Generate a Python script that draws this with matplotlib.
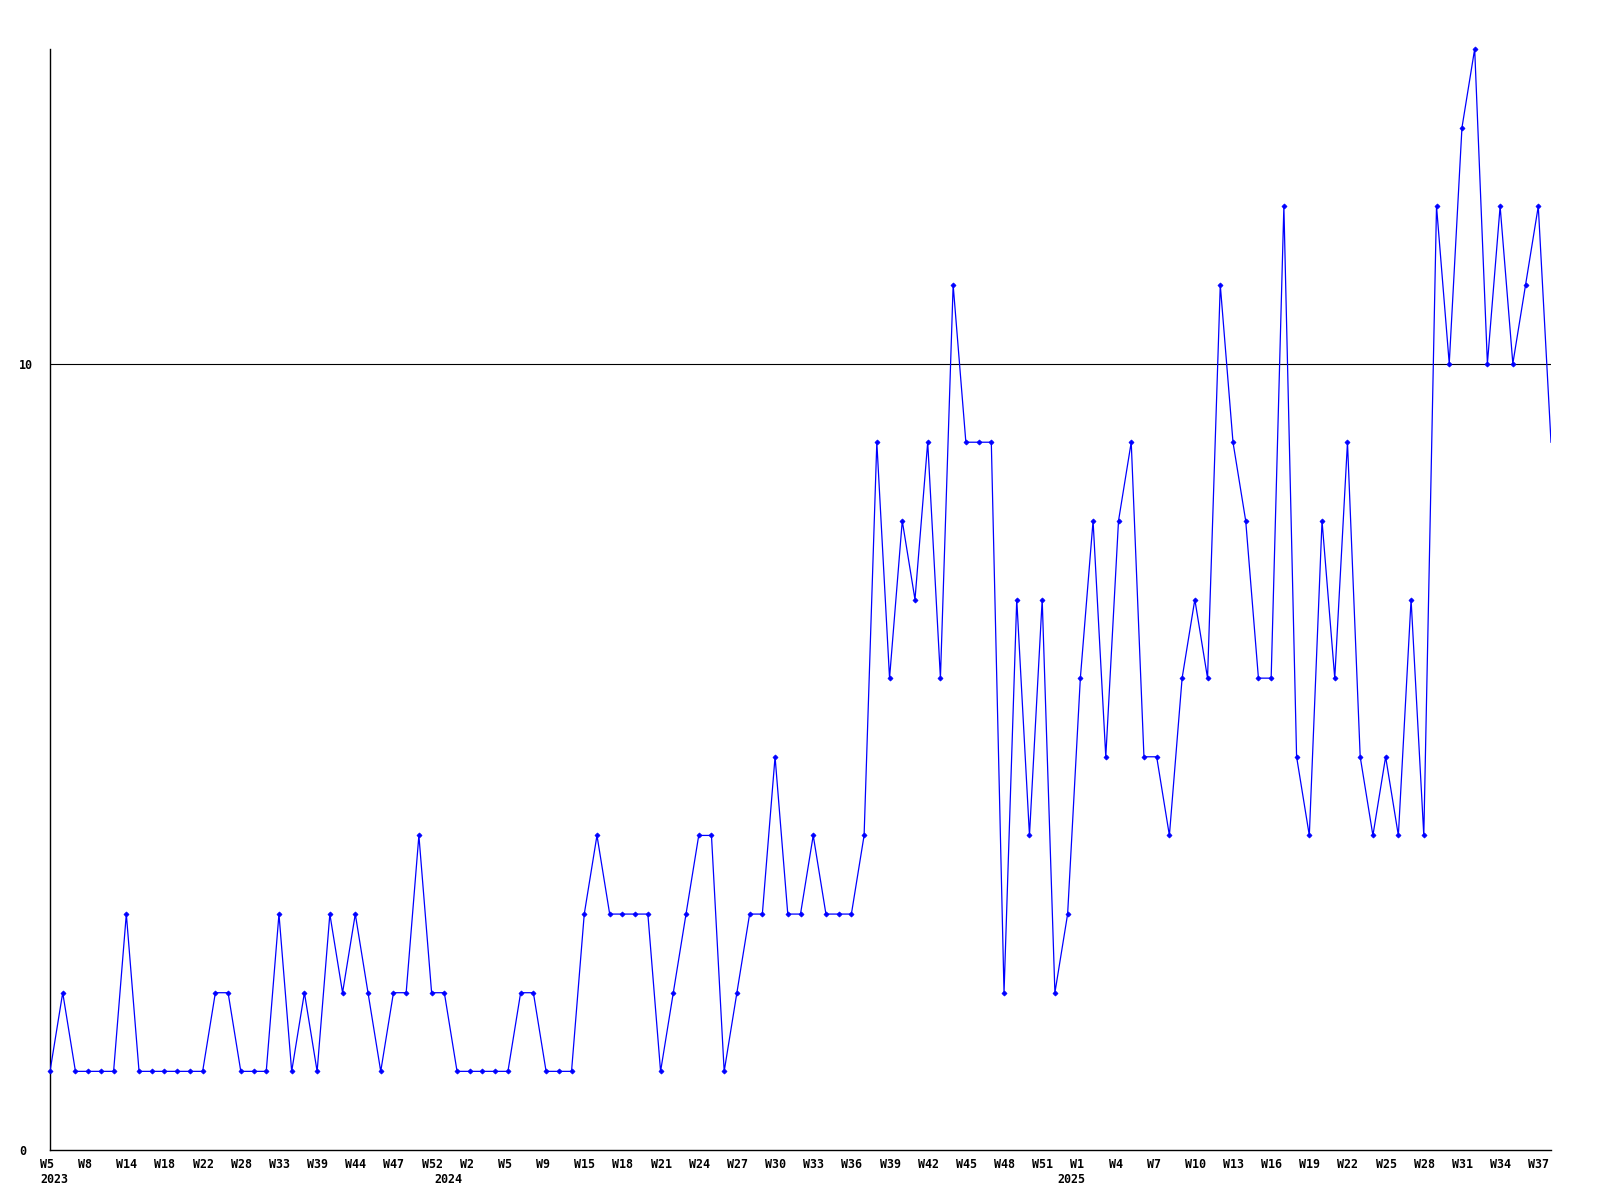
import matplotlib
matplotlib.use("Agg")
import matplotlib.pyplot as plt
from matplotlib.transforms import ScaledTranslation

# weekly counts, one value per data point
values = [1, 2, 1, 1, 1, 1, 3, 1, 1, 1, 1, 1, 1, 2, 2, 1, 1, 1, 3, 1,
          2, 1, 3, 2, 3, 2, 1, 2, 2, 4, 2, 2, 1, 1, 1, 1, 1, 2, 2, 1,
          1, 1, 3, 4, 3, 3, 3, 3, 1, 2, 3, 4, 4, 1, 2, 3, 3, 5, 3, 3,
          4, 3, 3, 3, 4, 9, 6, 8, 7, 9, 6, 11, 9, 9, 9, 2, 7, 4, 7, 2,
          3, 6, 8, 5, 8, 9, 5, 5, 4, 6, 7, 6, 11, 9, 8, 6, 6, 12, 5, 4,
          8, 6, 9, 5, 4, 5, 4, 7, 4, 12, 10, 13, 14, 10, 12, 10, 11, 12, 9]

# one label every third point
week_labels = ["W5", "W8", "W14", "W18", "W22", "W28", "W33", "W39", "W44", "W47",
               "W52", "W2", "W5", "W9", "W15", "W18", "W21", "W24", "W27", "W30",
               "W33", "W36", "W39", "W42", "W45", "W48", "W51", "W1", "W4", "W7",
               "W10", "W13", "W16", "W19", "W22", "W25", "W28", "W31", "W34", "W37"]
years = ["2023", "2024", "2025"]
year_idx = [0, 31, 80]

y_ticks = [0, 10]

fig = plt.figure(figsize=(16, 12), dpi=100)
ax = fig.add_axes([50 / 1600, 50 / 1200, 1501 / 1600, 1101 / 1200])

x = list(range(len(values)))
ax.plot(x, values, color="#0000ff", lw=0.9, zorder=3)
# the last point has no marker in the original
ax.plot(x[:-1], values[:-1], ls="none", color="#0000ff", marker="D", ms=2.6,
        markeredgewidth=0.5, clip_on=False, zorder=4)
ax.axhline(10, color="black", lw=0.8, zorder=2)

ax.set_xlim(0, len(values) - 1)
ax.set_ylim(0, 14)

for side in ["top", "right"]:
    ax.spines[side].set_visible(False)
for side in ["left", "bottom"]:
    ax.spines[side].set_linewidth(1.0)

font = dict(family="DejaVu Sans Mono", weight="bold", size=8.4)

ax.set_xticks([])
ax.set_yticks(y_ticks)
ax.set_yticklabels([str(t) for t in y_ticks], **font)
ax.tick_params(axis="y", length=0, pad=22.5)
for lbl in ax.get_yticklabels():
    lbl.set_ha("left")

shift = ax.get_xaxis_transform() + ScaledTranslation(-0.10, 0, fig.dpi_scale_trans)
for i, lab in enumerate(week_labels):
    ax.text(i * 3, 0, lab, transform=shift + ScaledTranslation(0, -0.18, fig.dpi_scale_trans),
            ha="left", va="baseline", clip_on=False, **font)
for yr, pos in zip(years, year_idx):
    ax.text(pos, 0, yr, transform=shift + ScaledTranslation(0, -0.33, fig.dpi_scale_trans),
            ha="left", va="baseline", clip_on=False, **font)

fig.savefig("out.png", dpi=100)
